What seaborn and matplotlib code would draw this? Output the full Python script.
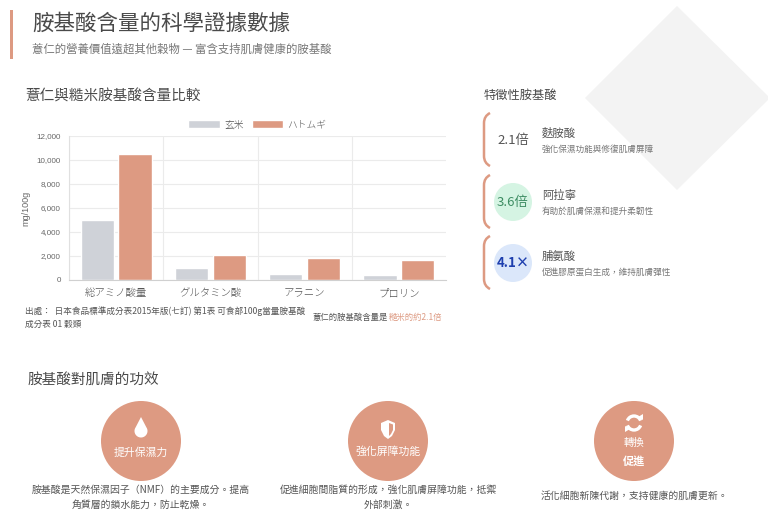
import numpy as np
import pandas as pd
import seaborn as sns
import matplotlib.pyplot as plt
from matplotlib.patches import Rectangle, Circle, Polygon, Arc
from matplotlib.path import Path
from matplotlib.patches import PathPatch
from matplotlib.ticker import FuncFormatter

# chart data (mg/100g)
categories = ["総アミノ酸量", "グルタミン酸", "アラニン", "プロリン"]
brown_rice = [5000, 1000, 500, 420]
hatomugi = [10480, 2080, 1800, 1640]
series_names = ["玄米", "ハトムギ"]

# side cards
card_ratios = ["2.1倍", "3.6倍", "4.1×"]
card_names = ["麩胺酸", "阿拉寧", "脯氨酸"]
card_desc = ["強化保濕功能與修復肌膚屏障", "有助於肌膚保濕和提升柔韌性", "促進膠原蛋白生成，維持肌膚彈性"]

# benefit circles
benefit_titles = ["提升保濕力", "強化屏障功能", "轉換"]
benefit_text = [["胺基酸是天然保濕因子（NMF）的主要成分。提高", "角質層的鎖水能力，防止乾燥。"],
                ["促進細胞間脂質的形成，強化肌膚屏障功能，抵禦", "外部刺激。"],
                ["活化細胞新陳代謝，支持健康的肌膚更新。"]]

SALMON = "#dd9a82"
GRAY_BAR = "#cfd2d8"
CJK = ["Noto Sans CJK TC", "DejaVu Sans"]
JP = ["Noto Sans CJK JP", "DejaVu Sans"]

sns.set_style("white")
plt.rcParams["font.family"] = CJK
plt.rcParams["font.weight"] = "light"

fig = plt.figure(figsize=(7.68, 5.2), dpi=100)
fig.patch.set_facecolor("white")

# background overlay in pixel coordinates
bg = fig.add_axes([0, 0, 1, 1], zorder=0)
bg.set_xlim(0, 768)
bg.set_ylim(520, 0)
bg.axis("off")

# decorative diamond
bg.add_patch(Polygon([(677, 6), (770, 98), (677, 190), (585, 98)], closed=True,
                     facecolor="#f3f3f3", edgecolor="none"))

# header
bg.add_patch(Rectangle((10, 10), 3, 49, facecolor=SALMON, edgecolor="none"))
bg.text(32, 24, "胺基酸含量的科學證據數據", fontsize=15.5, color="#4a4a4a", va="center")
bg.text(32, 49, "薏仁的營養價值遠超其他穀物 — 富含支持肌膚健康的胺基酸", fontsize=8.2,
        color="#777777", va="center")

bg.text(25, 97, "薏仁與糙米胺基酸含量比較", fontsize=10.5, color="#4a4a4a", va="center")
bg.text(484, 95, "特徵性胺基酸", fontsize=8.8, color="#4a4a4a", va="center")

# source notes
bg.text(25, 311, "出處：  日本食品標準成分表2015年版(七訂) 第1表 可食部100g當量胺基酸",
        fontsize=6.2, color="#555555", va="center", style="italic")
bg.text(25, 324, "成分表 01 穀類", fontsize=6.2, color="#555555", va="center", style="italic")
bg.text(313, 317, "薏仁的胺基酸含量是", fontsize=6, color="#555555", va="center")
bg.text(389, 317, "糙米的約2.1倍", fontsize=6, color=SALMON, va="center")

# cards
card_top = [113, 175, 236]
circle_fill = ["white", "#d5f4e3", "#dbe7fa"]
ratio_color = ["#555555", "#3d8c62", "#1e3fae"]
for i in range(3):
    t = card_top[i]
    b = t + 53
    verts = [(490, t), (484, t + 3), (484, t + 10), (484, b - 10), (484, b - 3), (490, b)]
    codes = [Path.MOVETO, Path.CURVE3, Path.CURVE3, Path.LINETO, Path.CURVE3, Path.CURVE3]
    bg.add_patch(PathPatch(Path(verts, codes), facecolor="none", edgecolor=SALMON, lw=1.8))
    cy = t + 27
    bg.add_patch(Circle((513, cy), 19, facecolor=circle_fill[i], edgecolor="none"))
    bg.text(513, cy, card_ratios[i], fontsize=9.5, color=ratio_color[i], ha="center", va="center",
            fontweight="bold" if i == 2 else "light")
    bg.text(542, cy - 7, card_names[i], fontsize=8.2, color="#555555", va="center")
    bg.text(542, cy + 9, card_desc[i], fontsize=6.2, color="#777777", va="center")

# benefits
bg.text(28, 381, "胺基酸對肌膚的功效", fontsize=10.5, color="#4a4a4a", va="center")
centers = [141, 388, 634]
for i, cx in enumerate(centers):
    bg.add_patch(Circle((cx, 441), 40, facecolor=SALMON, edgecolor="none"))

# drop icon
t = np.radians(np.linspace(-35, 215, 40))
drop = [(141, 417)] + [(141 + 6.5 * np.cos(a), 431 + 6.5 * np.sin(a)) for a in t]
bg.add_patch(Polygon(drop, closed=True, facecolor="white", edgecolor="none"))
bg.text(141, 453, benefit_titles[0], fontsize=7.8, color="white", ha="center", va="center")

# shield icon
sx, sy = 388, 430
shield = [(sx - 7, sy - 7), (sx, sy - 10), (sx + 7, sy - 7), (sx + 7, sy), (sx + 4, sy + 6),
          (sx, sy + 9), (sx - 4, sy + 6), (sx - 7, sy)]
bg.add_patch(Polygon(shield, closed=True, facecolor="white", edgecolor="none"))
half = [(sx + 1, sy - 7), (sx + 5, sy - 5.5), (sx + 5, sy), (sx + 3, sy + 4), (sx + 1, sy + 6)]
bg.add_patch(Polygon(half, closed=True, facecolor=SALMON, edgecolor="none"))
bg.text(388, 452, benefit_titles[1], fontsize=7.8, color="white", ha="center", va="center")

# refresh icon
rx, ry = 634, 423
bg.add_patch(Arc((rx, ry), 14, 14, theta1=200, theta2=340, color="white", lw=2.4))
bg.add_patch(Arc((rx, ry), 14, 14, theta1=20, theta2=160, color="white", lw=2.4))
bg.add_patch(Polygon([(rx + 4, ry - 6), (rx + 9, ry - 9), (rx + 9, ry - 3)], closed=True,
                     facecolor="white", edgecolor="none"))
bg.add_patch(Polygon([(rx - 4, ry + 6), (rx - 9, ry + 9), (rx - 9, ry + 3)], closed=True,
                     facecolor="white", edgecolor="none"))
bg.text(634, 443, benefit_titles[2], fontsize=7.5, color="white", ha="center", va="center")
bg.text(634, 461, "促進", fontsize=8, color="white", ha="center", va="center", fontweight="bold")

for i, cx in enumerate(centers):
    lines = benefit_text[i]
    if len(lines) == 1:
        bg.text(cx, 496, lines[0], fontsize=7.1, color="#555555", ha="center", va="center")
    else:
        bg.text(cx, 490, lines[0], fontsize=7.1, color="#555555", ha="center", va="center")
        bg.text(cx, 505, lines[1], fontsize=7.1, color="#555555", ha="center", va="center")

# bar chart
df = pd.DataFrame({
    "category": categories * 2,
    "value": brown_rice + hatomugi,
    "grain": [series_names[0]] * len(categories) + [series_names[1]] * len(categories),
})

ax = fig.add_axes([69 / 768, 1 - 280 / 520, (446 - 69) / 768, (280 - 136) / 520], zorder=1)
ax.patch.set_alpha(0)
sns.barplot(data=df, x="category", y="value", hue="grain", palette=[GRAY_BAR, SALMON],
            width=0.8, gap=0.12, ax=ax, errorbar=None, saturation=1)
ax.set_xlim(-0.5, 3.5)
ax.set_ylim(0, 12000)
ax.set_yticks(range(0, 12001, 2000))
ax.yaxis.set_major_formatter(FuncFormatter(lambda v, p: f"{int(v):,}"))
ax.set_xlabel("")
ax.set_ylabel("mg/100g", fontsize=6.5, color="#666666", family="Liberation Sans", labelpad=4)
ax.set_xticks([-0.5, 0.5, 1.5, 2.5], minor=True)
ax.grid(axis="y", color="#ebebeb", lw=0.8)
ax.grid(axis="x", which="minor", color="#ebebeb", lw=0.8)
ax.set_axisbelow(True)
ax.tick_params(axis="x", which="major", length=0, labelsize=7.5, labelcolor="#555555", pad=6)
ax.tick_params(axis="x", which="minor", length=4, color="#e0e0e0")
ax.tick_params(axis="y", length=4, color="#e0e0e0", labelsize=5.8, labelcolor="#666666", pad=2)
for lab in ax.get_xticklabels():
    lab.set_family(JP)
for lab in ax.get_yticklabels():
    lab.set_family("Liberation Sans")
for s in ["top", "right"]:
    ax.spines[s].set_visible(False)
ax.spines["left"].set_color("#e0e0e0")
ax.spines["bottom"].set_color("#d0d0d0")

handles = [Rectangle((0, 0), 1, 1, facecolor=GRAY_BAR), Rectangle((0, 0), 1, 1, facecolor=SALMON)]
leg = ax.legend(handles, series_names, loc="lower center", bbox_to_anchor=(0.5, 1.02), ncol=2,
                frameon=False, fontsize=7, handlelength=3.2, handleheight=0.9, columnspacing=0.8,
                handletextpad=0.5, borderaxespad=0)
for txt in leg.get_texts():
    txt.set_color("#555555")
    txt.set_family(JP)

fig.savefig("out.png", dpi=100)
